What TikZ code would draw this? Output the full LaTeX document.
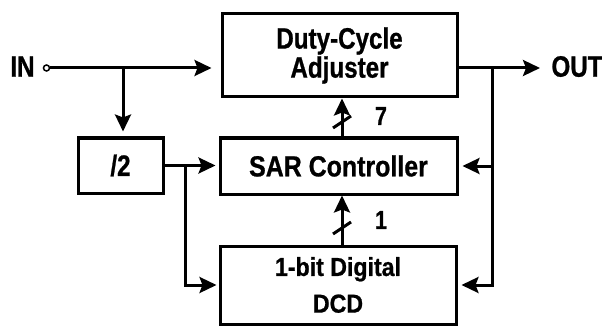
\documentclass[tikz,border=0pt]{standalone}
\usepackage{fontspec}
\newfontfamily\labfont{Liberation Sans}[FakeStretch=0.82, BoldFeatures={FakeBold=0.8}]
\newfontfamily\sarfont{Liberation Sans}[FakeStretch=0.86, BoldFeatures={FakeBold=0.8}]
\newfontfamily\dcdfont{Liberation Sans}[FakeStretch=0.89, BoldFeatures={FakeBold=0.8}]
\usetikzlibrary{arrows.meta}
\begin{document}
\begin{tikzpicture}[x=1pt,y=-1pt,
  every node/.style={font=\labfont\bfseries\fontsize{29.5}{29}\selectfont},
  blk/.style={draw, line width=3pt, inner sep=0pt, align=center},
  wire/.style={line width=3pt},
  arr/.style={wire, -{Stealth[length=17pt,width=16pt,inset=3pt]}},
  slashmark/.style={line width=3pt}]
\useasboundingbox (0,0) rectangle (602,326);

% blocks
\node[blk, minimum width=235pt, minimum height=83pt] (dca) at (339.5,55.5) {Duty-Cycle\\Adjuster};
\node[blk, minimum width=237pt, minimum height=56pt,
      font=\sarfont\bfseries\fontsize{29}{29}\selectfont] (sar) at (338.5,166) {SAR Controller};
\node[blk, minimum width=236pt, minimum height=78pt,
      font=\dcdfont\bfseries\fontsize{26}{36.7}\selectfont] (dcd) at (338,285) {1-bit Digital\\DCD};
\node[blk, minimum width=85pt, minimum height=55pt] (div) at (120.5,165.5) {/2};

% terminals
\node[anchor=base] (inlbl) at (22.5,76.7) {IN};
\node[anchor=base] (outlbl) at (577,76.7) {OUT};
\node[circle, draw, line width=1.5pt, inner sep=0pt, minimum size=6pt, fill=white] (in) at (46.5,68) {};

% junctions and wire ends
\coordinate (j1) at (123,68);
\coordinate (j2) at (185,166);
\coordinate (j3) at (492,68);
\coordinate (out) at (540,68);
\coordinate (busx) at (342,0);

% input path
\draw[arr, shorten >=9pt] (in.east) -- (in.east -| dca.west);
\draw[arr, shorten >=5pt] (j1) -- (j1 |- div.north);
\draw[arr, shorten >=3pt] (div.east) -- (div.east -| sar.west);
\draw[arr, shorten >=2pt] (j2) |- (dcd.west);

% output and feedback
\draw[arr] (dca.east |- in) -- (out);
\draw[arr, shorten >=4pt] (j3) |- (dcd.east);
\draw[arr, shorten >=4pt] (j3 |- sar.east) -- (sar.east);

% buses
\draw[arr] (busx |- dcd.north) -- (busx |- sar.south);
\draw[arr] (busx |- sar.north) -- (busx |- dca.south);
\draw[slashmark] (333,234) -- (351,222);
\draw[slashmark] (333,128) -- (351,116);
\node[font=\labfont\bfseries\fontsize{26}{26}\selectfont] (w7) at (381,116) {7};
\node[font=\labfont\bfseries\fontsize{26}{26}\selectfont] (w1) at (381,220) {1};
\end{tikzpicture}
\end{document}
